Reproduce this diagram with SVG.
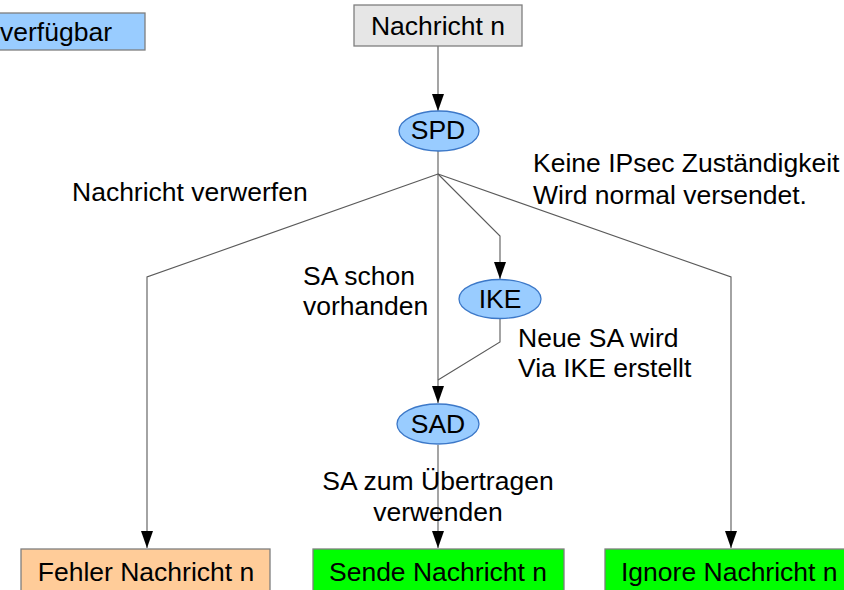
<svg xmlns="http://www.w3.org/2000/svg" width="844" height="590" viewBox="0 0 844 590">
  <style>
    text { font-family: "Liberation Sans", Arial, sans-serif; font-size: 26.5px; fill: #000; }
    .mid { text-anchor: middle; }
    .box { stroke: #7f7f7f; stroke-width: 1.3; }
    .ell { fill: #99ccff; stroke: #3c78c8; stroke-width: 1.3; }
    .line { fill: none; stroke: #5a5a5a; stroke-width: 1.1; }
  </style>
  <defs>
    <marker id="ah" markerWidth="17" markerHeight="12" refX="17" refY="6" orient="auto" markerUnits="userSpaceOnUse" viewBox="0 0 17 12">
      <path d="M0,0 L17,6 L0,12 Z" fill="#000"/>
    </marker>
  </defs>

  <!-- legend box, partly outside the page -->
  <g id="legend">
    <rect class="box" x="-20" y="13" width="165" height="37" fill="#99ccff"/>
    <text x="0" y="41">verfügbar</text>
  </g>

  <!-- connectors -->
  <g id="connectors">
    <line class="line" x1="438" y1="46" x2="438" y2="111" marker-end="url(#ah)"/>
    <line class="line" x1="438" y1="151" x2="438" y2="174"/>
    <polyline class="line" points="438,174 147,277 147,548" marker-end="url(#ah)"/>
    <polyline class="line" points="438,174 438,403" marker-end="url(#ah)"/>
    <polyline class="line" points="438,174 500,236 500,279" marker-end="url(#ah)"/>
    <polyline class="line" points="438,174 731,277 731,548" marker-end="url(#ah)"/>
    <polyline class="line" points="500,318 500,342 438,380"/>
    <line class="line" x1="438" y1="445" x2="438" y2="548" marker-end="url(#ah)"/>
  </g>

  <g id="nachricht">
    <rect class="box" x="354" y="5" width="168" height="41" fill="#e6e6e6"/>
    <text class="mid" x="438" y="35">Nachricht n</text>
  </g>

  <g id="spd">
    <ellipse class="ell" cx="439" cy="131" rx="40" ry="20"/>
    <text class="mid" x="438" y="139">SPD</text>
  </g>

  <g id="ike">
    <ellipse class="ell" cx="500" cy="299" rx="41" ry="19.5"/>
    <text class="mid" x="500" y="308">IKE</text>
  </g>

  <g id="sad">
    <ellipse class="ell" cx="438" cy="424" rx="41" ry="20"/>
    <text class="mid" x="438" y="433">SAD</text>
  </g>

  <g id="fehler">
    <rect class="box" x="21" y="549" width="249" height="50" fill="#ffcc99"/>
    <text class="mid" x="146" y="581">Fehler Nachricht n</text>
  </g>

  <g id="sende">
    <rect class="box" x="313" y="549" width="251" height="50" fill="#00ff00"/>
    <text class="mid" x="438" y="581">Sende Nachricht n</text>
  </g>

  <g id="ignore">
    <rect class="box" x="605" y="549" width="240" height="50" fill="#00ff00"/>
    <text x="621" y="581">Ignore Nachricht n</text>
  </g>

  <!-- edge labels -->
  <g id="labels">
    <text x="72" y="201">Nachricht verwerfen</text>
    <text x="533" y="172">Keine IPsec Zuständigkeit</text>
    <text x="533" y="204">Wird normal versendet.</text>
    <text x="303" y="285">SA schon</text>
    <text x="303" y="315">vorhanden</text>
    <text x="518" y="347">Neue SA wird</text>
    <text x="518" y="377">Via IKE erstellt</text>
    <text class="mid" x="438" y="490">SA zum Übertragen</text>
    <text class="mid" x="438" y="521">verwenden</text>
  </g>
</svg>
